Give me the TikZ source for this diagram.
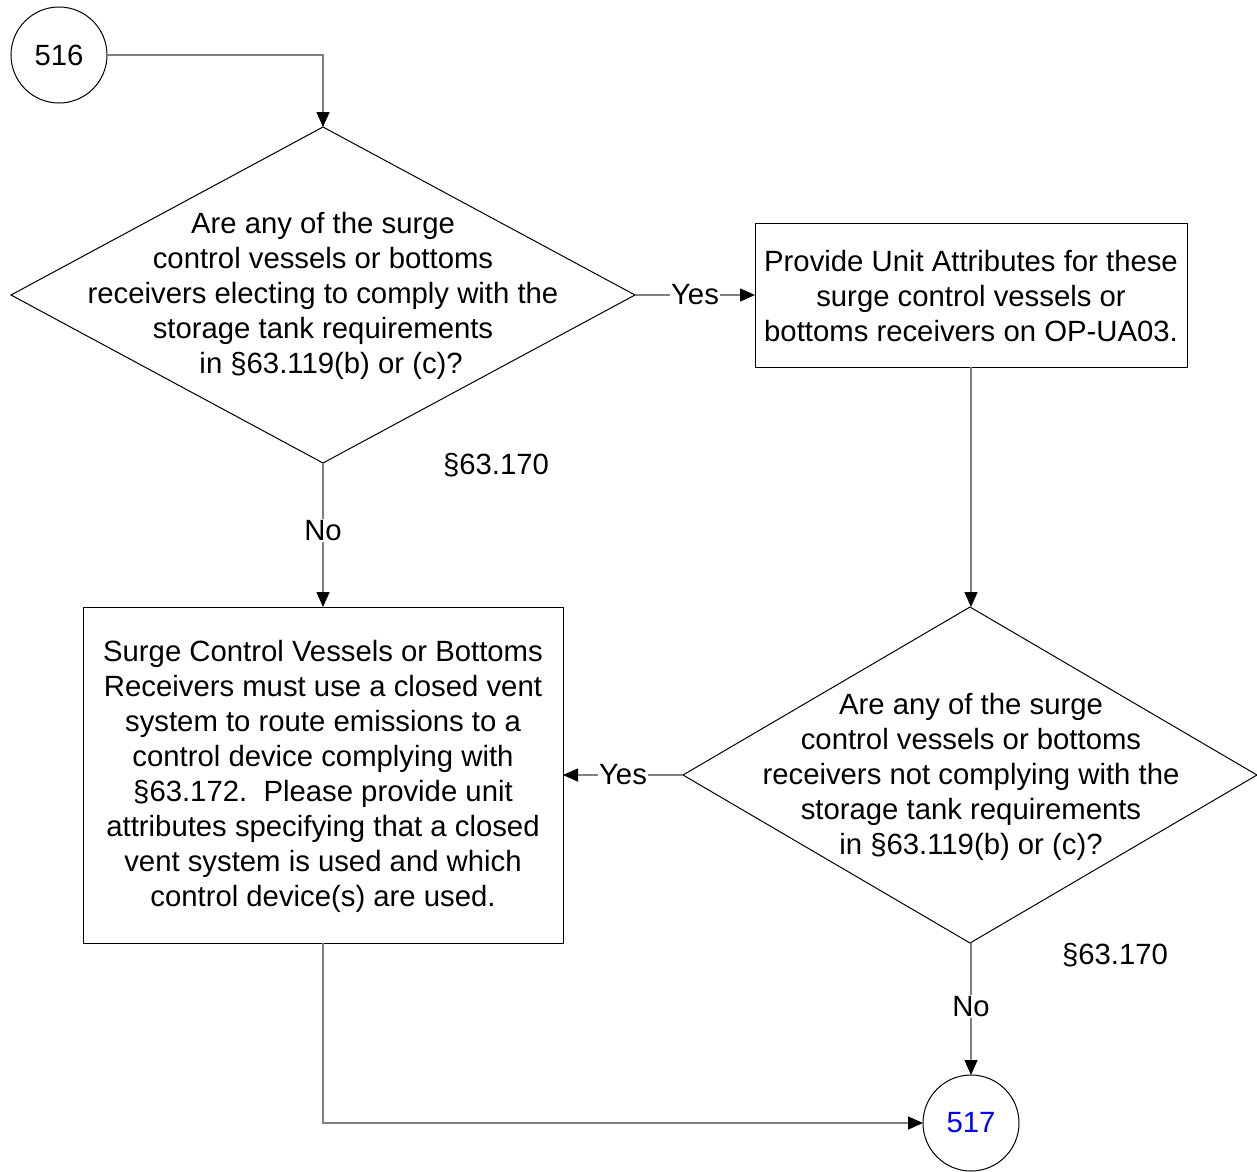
\documentclass[tikz,border=0pt]{standalone}
\usepackage{fontspec}
\setmainfont{Liberation Sans}
\usetikzlibrary{shapes.geometric,arrows.meta}
\definecolor{conngray}{HTML}{808080}
\definecolor{bluetxt}{HTML}{0000FF}
\tikzset{
  shapeline/.style={draw=black, line width=1pt},
  dia/.style={shapeline, diamond, shape aspect=1, inner sep=0pt, outer sep=0pt},
  boxn/.style={shapeline, rectangle, inner sep=0pt, outer sep=0pt},
  circn/.style={shapeline, circle, minimum size=96pt, inner sep=0pt, outer sep=0pt},
  txt/.style={align=center, inner sep=0pt, font=\fontsize{29.3}{35}\selectfont},
  conn/.style={draw=conngray, line width=1.3pt, -{Triangle[length=15pt,width=13pt,fill=black,color=black]}},
  lab/.style={fill=white, inner sep=1.5pt, font=\fontsize{29.3}{32}\selectfont},
}
\begin{document}
\begin{tikzpicture}[x=1pt,y=-1pt]
\useasboundingbox[fill=white] (0,0) rectangle (1257,1171);
% nodes
\node[circn, font=\fontsize{29.3}{32}\selectfont] (c516) at (59,55) {516};
\node[dia, minimum width=624pt, minimum height=336pt] (d1) at (323,295) {};
\node[txt] (d1t) at (323,296) {Are any of the surge\\control vessels or bottoms\\receivers electing to comply with the\\storage tank requirements\\\ \ in §63.119(b) or (c)?};
\node[boxn, minimum width=432pt, minimum height=144pt] (b1) at (971,295) {};
\node[txt] (b1t) at (971,296) {Provide Unit Attributes for these\\surge control vessels or\\bottoms receivers on OP-UA03.};
\node[dia, minimum width=574pt, minimum height=336pt] (d2) at (970,775) {};
\node[txt] (d2t) at (971,777) {Are any of the surge\\control vessels or bottoms\\receivers not complying with the\\storage tank requirements\\in §63.119(b) or (c)?};
\node[boxn, minimum width=480pt, minimum height=336pt] (b2) at (323,775) {};
\node[txt] (b2t) at (323,776) {Surge Control Vessels or Bottoms\\Receivers must use a closed vent\\system to route emissions to a\\control device complying with\\§63.172.\ \ Please provide unit\\attributes specifying that a closed\\vent system is used and which\\control device(s) are used.};
\node[circn, font=\fontsize{29.3}{32}\selectfont, text=bluetxt] (c517) at (971,1123) {517};
\node[txt] (ref1) at (496,465) {§63.170};
\node[txt] (ref2) at (1115,955) {§63.170};
% connectors
\coordinate (k1) at (d1.north |- c516.east);
\draw[conn] (c516.east) -- (k1) -- (d1.north);
\draw[conn] (d1.east) -- (b1.west) node[lab, midway] {Yes};
\draw[conn] (d1.south) -- (b2.north) node[lab, pos=0.47] {No};
\draw[conn] (b1.south) -- (d2.north -| b1.south);
\draw[conn] (d2.west) -- (b2.east) node[lab, midway] {Yes};
\draw[conn] (d2.south -| c517.north) -- (c517.north) node[lab, pos=0.48] {No};
\coordinate (k2) at (b2.south |- c517.west);
\draw[conn] (b2.south) -- (k2) -- (c517.west);
\end{tikzpicture}
\end{document}
